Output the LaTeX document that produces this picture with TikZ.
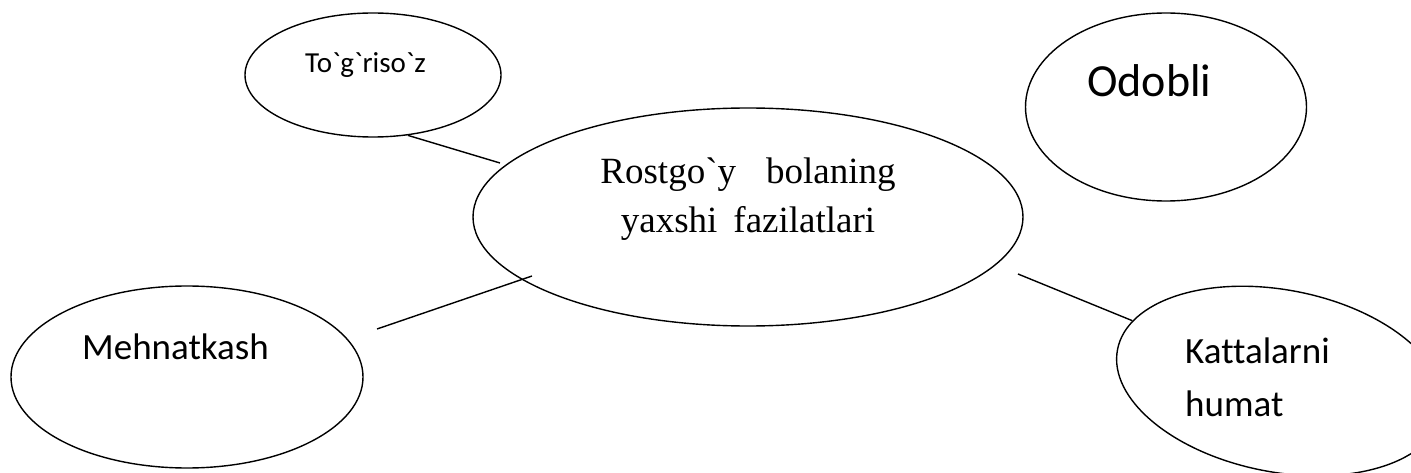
\documentclass[tikz,border=0pt]{standalone}
\usepackage{fontspec}
\newfontfamily\ovalfont{Carlito}[Ligatures=CommonOff]
\newfontfamily\headfont{Liberation Serif}
\usetikzlibrary{shapes.geometric}

\tikzset{
  oval/.style={draw, ellipse, line width=1.4pt, inner sep=0pt},
  word/.style={inner sep=0pt, anchor=base west},
  link/.style={line width=1.4pt},
}

\begin{document}
\begin{tikzpicture}[x=1pt, y=-1pt]

    \useasboundingbox (0,0) rectangle (1411,473);
    \clip (0,0) rectangle (1411,473);

    \def\wsize{\fontsize{37}{44}\selectfont}

    % ellipses
    \node[oval, minimum width=550pt, minimum height=218pt] (main) at (748,217) {};
    \node[oval, minimum width=256pt, minimum height=124pt] (tog) at (373,75) {};
    \node[oval, minimum width=281pt, minimum height=188pt] (odob) at (1166,107) {};
    \node[oval, minimum width=352pt, minimum height=182pt] (meh) at (187,377) {};
    \node[oval, minimum width=331pt, minimum height=182pt, rotate=-11] (kat) at (1280,381) {};

    % texts
    \node[word, anchor=base, font=\headfont\wsize] (main1) at (748,184) {Rostgo`y\hspace{30pt}bolaning};
    \node[word, anchor=base, font=\headfont\wsize] (main2) at (748,233) {yaxshi\hspace{16pt}fazilatlari};
    \node[word, font=\ovalfont\fontsize{29}{34}\selectfont] (tog-t) at (305,73) {To`g`riso`z};
    \node[word, font=\ovalfont\fontsize{46}{55}\selectfont] (odob-t) at (1087,97) {Odobli};
    \node[word, font=\ovalfont\wsize] (meh-t) at (82,359) {Mehnatkash};
    \node[word, font=\ovalfont\wsize] (kat-t1) at (1185,363) {Kattalarni};
    \node[word, font=\ovalfont\wsize] (kat-t2) at (1185,416) {humat};

    % lines
    \coordinate (c1) at (500,163);
    \coordinate (c2a) at (377,329);
    \coordinate (c2b) at (532,276);
    \coordinate (c3) at (1018,274);

    \draw[link] (tog.-60.5) -- (c1);
    \draw[link] (c2a) -- (c2b);
    \draw[link] (c3) -- (kat);

\end{tikzpicture}
\end{document}
